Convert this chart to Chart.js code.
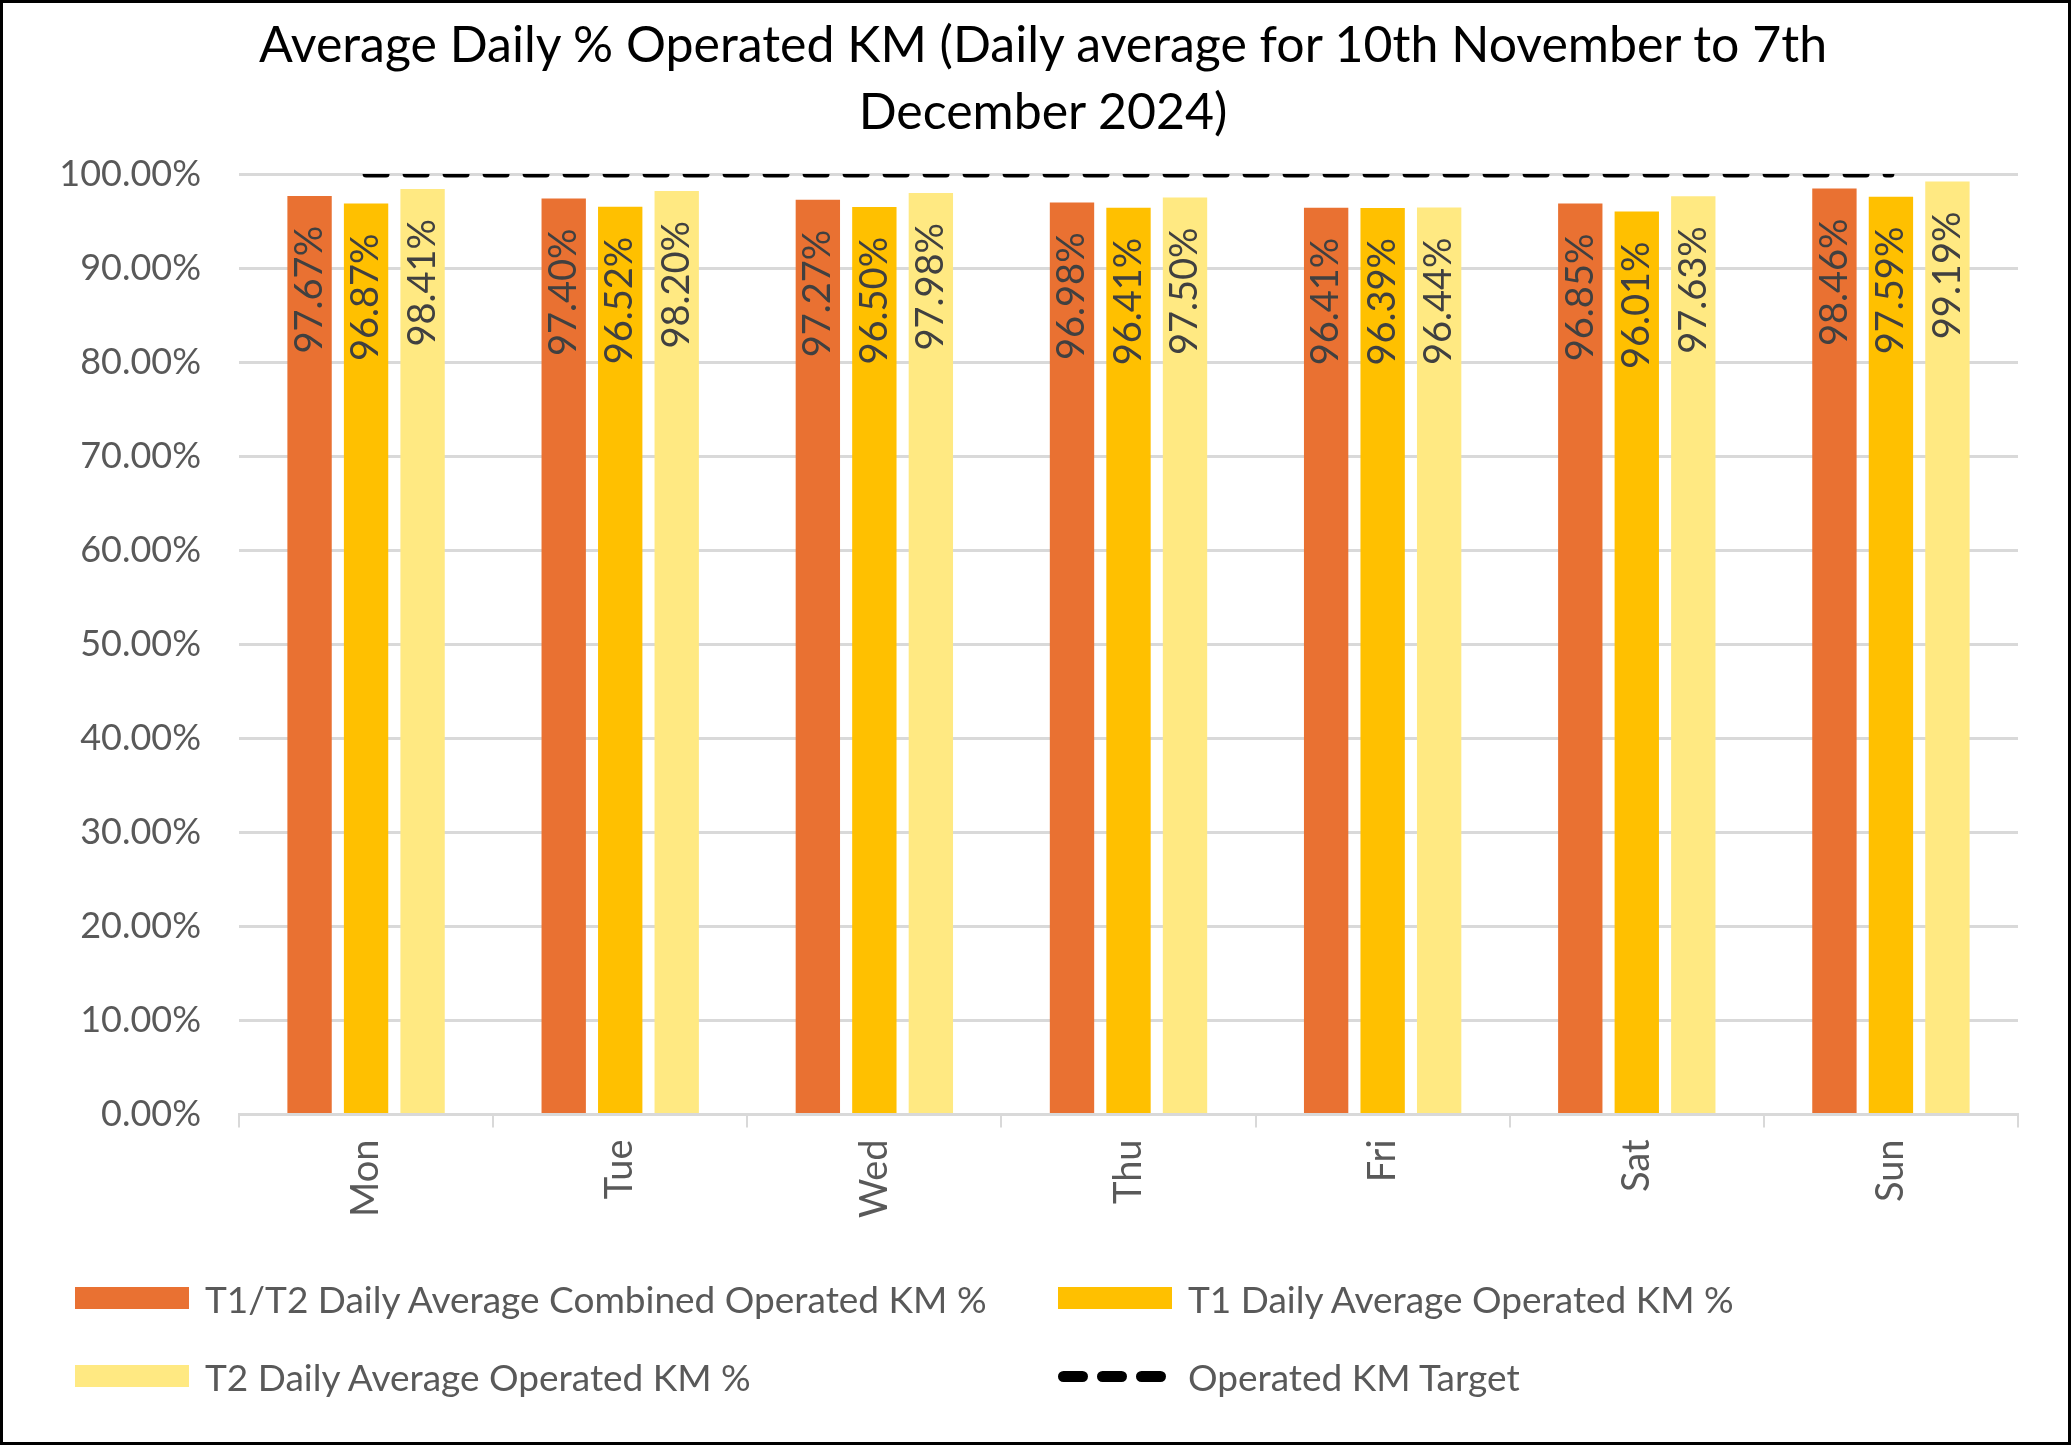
<!DOCTYPE html>
<html>
<head>
<meta charset="utf-8">
<script src="https://cdn.jsdelivr.net/npm/chart.js@4"></script>
<style>
  html, body { margin: 0; padding: 0; background: #fff; }
  #wrap { position: absolute; left: 0; top: 0; width: 2071px; height: 1445px; }
  #frame { position: absolute; left: 0; top: 0; width: 2071px; height: 1445px; box-sizing: border-box; border: 3px solid #000; pointer-events: none; }
  #title { position: absolute; left: 0; top: 10px; width: 2071px; box-sizing: border-box; padding-left: 15px; text-align: center; font-family: Lato, sans-serif; font-size: 50px; line-height: 67px; color: #000; }
  .leg { position: absolute; font-family: Lato, sans-serif; font-size: 37px; color: #595959; display: flex; align-items: center; white-space: nowrap; }
  .box { width: 114px; height: 22px; margin-right: 16px; }
  .dash { width: 108px; height: 11px; margin-right: 22px; display: flex; justify-content: space-between; }
  .dash span { width: 30px; height: 11px; background: #000; border-radius: 6px; }
</style>
</head>
<body>
<div id="wrap">
  <canvas id="myChart" width="2071" height="1445"></canvas>
  <div id="title"></div>
  <div id="legend"></div>
  <div id="frame"></div>
</div>
<script>
// data
const days = ['Mon', 'Tue', 'Wed', 'Thu', 'Fri', 'Sat', 'Sun'];
const combined = [97.67, 97.40, 97.27, 96.98, 96.41, 96.85, 98.46];
const t1 = [96.87, 96.52, 96.50, 96.41, 96.39, 96.01, 97.59];
const t2 = [98.41, 98.20, 97.98, 97.50, 96.44, 97.63, 99.19];
const target = [100, 100, 100, 100, 100, 100, 100];

const titleLines = ['Average Daily % Operated KM (Daily average for 10th November to 7th', 'December 2024)'];
const seriesNames = [
    'T1/T2 Daily Average Combined Operated KM %',
    'T1 Daily Average Operated KM %',
    'T2 Daily Average Operated KM %',
    'Operated KM Target'
];
const seriesColors = ['#E97132', '#FFC000', '#FFE982', '#000000'];

titleLines.forEach(function(line, i){
    const t = document.getElementById('title');
    if (i > 0) t.appendChild(document.createElement('br'));
    t.appendChild(document.createTextNode(line));
});

// labels inside the bars, turned upright
const barLabels = {
    id: 'barLabels',
    afterDatasetsDraw(chart) {
        const ctx = chart.ctx;
        ctx.save();
        ctx.font = '38px Lato';
        ctx.fillStyle = '#404040';
        ctx.textAlign = 'right';
        ctx.textBaseline = 'middle';
        chart.data.datasets.forEach(function(ds, i){
            if (ds.type == 'line') return;
            chart.getDatasetMeta(i).data.forEach(function(bar, j){
                ctx.save();
                ctx.translate(bar.x, bar.y + 30);
                ctx.rotate(-Math.PI / 2);
                ctx.fillText(ds.data[j].toFixed(2) + '%', 0, 0);
                ctx.restore();
            });
        });
        ctx.restore();
    }
};

const barData = [combined, t1, t2];
let datasets = [];
datasets.push({
    type: 'line',
    label: seriesNames[3],
    data: target,
    borderColor: seriesColors[3],
    borderWidth: 7,
    borderDash: [20, 20],
    borderCapStyle: 'round',
    pointRadius: 0,
    fill: false,
    order: 0
});
barData.forEach(function(d, i){
    datasets.push({
        type: 'bar',
        label: seriesNames[i],
        data: d,
        backgroundColor: seriesColors[i],
        barPercentage: 0.785,
        categoryPercentage: 0.667,
        order: 1
    });
});

var ctx = document.getElementById('myChart').getContext('2d');
var myChart = new Chart(ctx, {
    data: { labels: days, datasets: datasets },
    plugins: [barLabels],
    options: {
        responsive: false,
        animation: false,
        layout: { padding: { left: 20, right: 53, top: 174, bottom: 215 } },
        plugins: {
            legend: { display: false },
            tooltip: { enabled: false },
            title: { display: false }
        },
        scales: {
            x: {
                grid: { drawOnChartArea: false, drawTicks: true, tickLength: 13, color: '#D9D9D9', lineWidth: 2 },
                border: { color: '#D9D9D9', width: 3 },
                ticks: { color: '#595959', font: { family: 'Lato', size: 38 }, minRotation: 90, maxRotation: 90, padding: 12 }
            },
            y: {
                min: 0,
                max: 100,
                afterFit: function(scale){ scale.width = 219; },
                grid: { color: '#D9D9D9', lineWidth: 3, drawTicks: false },
                border: { display: false },
                ticks: {
                    stepSize: 10,
                    color: '#595959',
                    padding: 38,
                    font: { family: 'Lato', size: 36 },
                    callback: function(v){ return v.toFixed(2) + '%'; }
                }
            }
        }
    }
});

// legend in two columns
const legendPos = [[75, 1298], [1058, 1298], [75, 1376], [1058, 1376]];
const legend = document.getElementById('legend');
seriesNames.forEach(function(name, k){
    const item = document.createElement('div');
    item.className = 'leg';
    item.style.left = legendPos[k][0] + 'px';
    item.style.top = (legendPos[k][1] - 25) + 'px';
    item.style.height = '50px';
    let mark = document.createElement('div');
    if (k == 3) {
        mark.className = 'dash';
        for (let n = 0; n < 3; n++) mark.appendChild(document.createElement('span'));
    } else {
        mark.className = 'box';
        mark.style.background = seriesColors[k];
    }
    item.appendChild(mark);
    item.appendChild(document.createTextNode(name));
    legend.appendChild(item);
});
</script>
</body>
</html>
